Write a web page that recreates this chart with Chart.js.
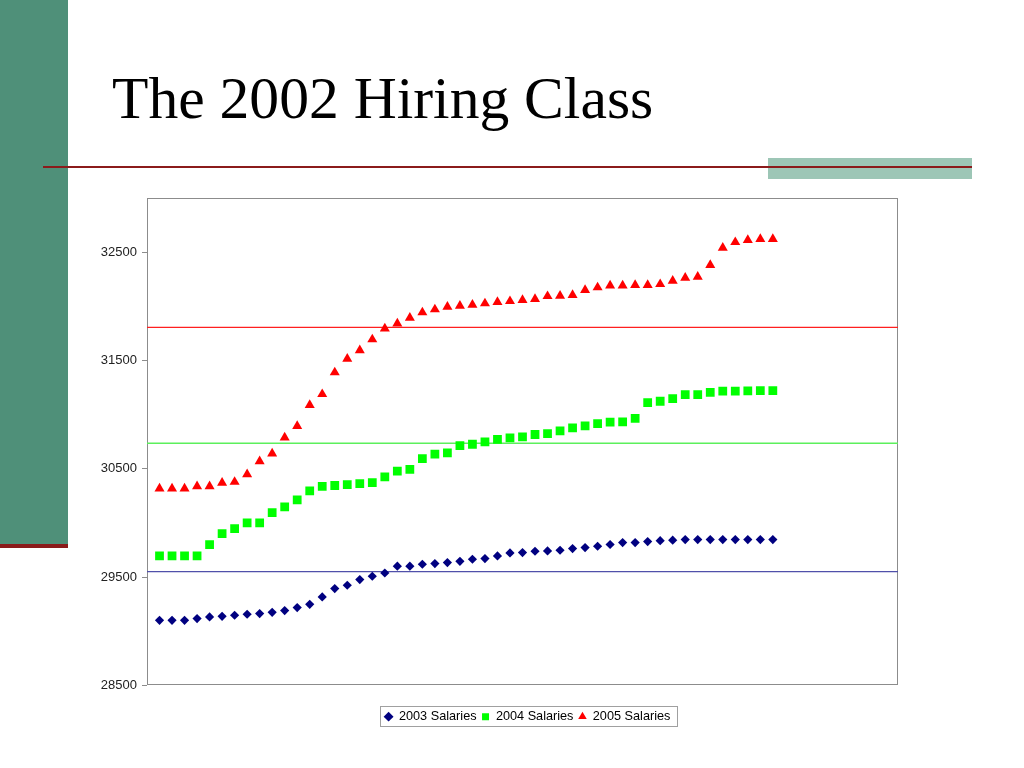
<!DOCTYPE html>
<html>
<head>
<meta charset="utf-8">
<script src="https://cdn.jsdelivr.net/npm/chart.js@4"></script>
<style>
  html, body { margin: 0; padding: 0; background: #fff; }
  body { width: 1024px; height: 768px; position: relative; overflow: hidden; }
  #greenBar { position: absolute; left: 0; top: 0; width: 68px; height: 544px; background: #4f9079; }
  #redFoot { position: absolute; left: 0; top: 544px; width: 68px; height: 4px; background: #8b1b1b; }
  #accent { position: absolute; left: 768px; top: 158px; width: 204px; height: 21px; background: #9dc6b6; }
  #rule { position: absolute; left: 43px; top: 166px; width: 929px; height: 2px; background: #8b1b1b; }
  #title { position: absolute; left: 112px; top: 64px; margin: 0; font-family: "Liberation Serif", "Times New Roman", serif;
           font-weight: normal; font-size: 59.6px; line-height: 68px; color: #000; white-space: nowrap; }
  #chartWrap { position: absolute; left: 0; top: 0; width: 1024px; height: 768px; }
</style>
</head>
<body>
<div id="greenBar"></div>
<div id="redFoot"></div>
<div id="accent"></div>
<div id="rule"></div>
<h1 id="title">The 2002 Hiring Class</h1>
<div id="chartWrap"><canvas id="c" width="1024" height="768"></canvas></div>
<script>
// ---- data ----
const employees = [1,2,3,4,5,6,7,8,9,10,11,12,13,14,15,16,17,18,19,20,21,22,23,24,25,
                   26,27,28,29,30,31,32,33,34,35,36,37,38,39,40,41,42,43,44,45,46,47,48,49,50];
const seriesNames = ["2003 Salaries", "2004 Salaries", "2005 Salaries"];
const salaries2003 = [29100,29100,29100,29116,29131,29137,29147,29156,29162,29174,
                      29190,29218,29248,29316,29393,29424,29476,29507,29537,29600,
                      29600,29618,29624,29633,29645,29664,29670,29695,29722,29726,
                      29738,29741,29747,29763,29772,29784,29800,29818,29818,29827,
                      29836,29840,29846,29846,29846,29846,29846,29846,29846,29846];
const salaries2004 = [29695,29695,29695,29695,29800,29901,29947,30000,30000,30095,
                      30147,30212,30295,30338,30345,30354,30363,30372,30424,30477,
                      30495,30594,30634,30646,30714,30726,30748,30770,30785,30794,
                      30816,30825,30849,30877,30895,30917,30930,30932,30964,31111,
                      31123,31148,31185,31185,31204,31216,31216,31219,31222,31222];
const salaries2005 = [30317,30317,30317,30338,30338,30369,30378,30449,30569,30640,
                      30788,30893,31087,31188,31389,31515,31594,31694,31795,31841,
                      31893,31943,31971,31995,32004,32013,32026,32038,32047,32057,
                      32066,32093,32096,32103,32149,32174,32192,32192,32195,32196,
                      32204,32235,32263,32272,32380,32540,32592,32611,32620,32620];
const averageSalaries = [29550, 30735, 31805];
const averageLineX = [0, 60];
const yTickValues = [28500, 29500, 30500, 31500, 32500];
const xRange = [0, 60];
const yRange = [28500, 33000];

const toPoints = (vals) => vals.map((v, i) => ({ x: employees[i], y: v }));
const toLine = (v) => averageLineX.map(x => ({ x: x, y: v }));

const frame = {
  id: 'frame',
  afterLayout(chart) {
    // nudge the legend slightly right, as in the original slide
    if (chart.legend) { chart.legend.left += 5; chart.legend.right += 5; }
  },
  beforeDatasetsDraw(chart) {
    const a = chart.chartArea, ctx = chart.ctx;
    ctx.save();
    ctx.strokeStyle = '#8c8c8c';
    ctx.lineWidth = 1;
    ctx.strokeRect(Math.round(a.left) + 0.5, Math.round(a.top) + 0.5,
                   Math.round(a.right - a.left) - 1, Math.round(a.bottom - a.top) - 1);
    ctx.restore();
  },
  afterDraw(chart) {
    const hb = chart.legend && chart.legend.legendHitBoxes;
    if (!hb || !hb.length) return;
    const ctx = chart.ctx;
    let l = Infinity, r = -Infinity, t = Infinity, b = -Infinity;
    hb.forEach(h => { l = Math.min(l, h.left); r = Math.max(r, h.left + h.width);
                      t = Math.min(t, h.top); b = Math.max(b, h.top + h.height); });
    ctx.save();
    ctx.strokeStyle = '#a0a0a0';
    ctx.lineWidth = 1;
    ctx.strokeRect(Math.round(l - 5) + 0.5, Math.round(t - 4) + 0.5, Math.round(r - l + 11), Math.round(b - t + 7));
    ctx.restore();
  }
};

const pointSet = (label, vals, style, color, radius) => ({
  label: label, data: toPoints(vals), showLine: false,
  pointStyle: style, pointRadius: radius, pointHoverRadius: radius,
  backgroundColor: color, borderColor: color, pointBorderWidth: 0, borderWidth: 0
});
const lineSet = (v, color) => ({
  label: 'avg', data: toLine(v), showLine: true, pointRadius: 0, pointHoverRadius: 0,
  borderColor: color, borderWidth: 1.3, backgroundColor: color, fill: false, isAverage: true
});

new Chart(document.getElementById('c'), {
  type: 'scatter',
  data: {
    datasets: [
      pointSet(seriesNames[0], salaries2003, 'rectRot', '#000080', 4.6),
      pointSet(seriesNames[1], salaries2004, 'rect', '#00ff00', 6.2),
      pointSet(seriesNames[2], salaries2005, 'triangle', '#ff0000', 5.8),
      lineSet(averageSalaries[0], '#5050aa'),
      lineSet(averageSalaries[1], '#5cf05c'),
      lineSet(averageSalaries[2], '#ff2020')
    ]
  },
  options: {
    responsive: false,
    animation: false,
    events: [],
    layout: { padding: { left: 0, top: 198, right: 126, bottom: 35 } },
    scales: {
      x: {
        type: 'linear', min: xRange[0], max: xRange[1], display: true,
        ticks: { display: false },
        grid: { display: false, drawTicks: true, tickLength: 20 },
        border: { display: false }
      },
      y: {
        type: 'linear', min: yRange[0], max: yRange[1],
        afterBuildTicks(scale) { scale.ticks = yTickValues.map(v => ({ value: v })); },
        afterFit(scale) { scale.width = 147; },
        ticks: { color: '#222', padding: 5, callback: (v) => String(v),
                 font: { family: "'Liberation Sans', Arial, sans-serif", size: 13 } },
        grid: { drawOnChartArea: false, drawTicks: true, tickLength: 5, color: '#8c8c8c' },
        border: { display: false }
      }
    },
    plugins: {
      tooltip: { enabled: false },
      legend: {
        position: 'bottom', fullSize: false,
        labels: {
          usePointStyle: true, boxWidth: 8, boxHeight: 7, padding: 5, color: '#000',
          font: { family: "'Liberation Sans', Arial, sans-serif", size: 12.7 },
          filter: (item, data) => !data.datasets[item.datasetIndex].isAverage
        }
      }
    }
  },
  plugins: [frame]
});
</script>
</body>
</html>
